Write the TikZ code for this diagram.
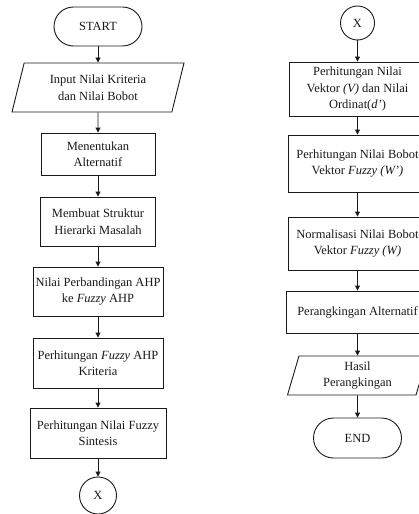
\documentclass[tikz,border=0pt]{standalone}
\usepackage{fontspec}
\setmainfont{Liberation Serif}
\usetikzlibrary{shapes.geometric}
\usetikzlibrary{arrows.meta}

\tikzset{
  terminal/.style={draw,rectangle,rounded corners=19.5pt,minimum width=88pt,minimum height=39pt},
  process/.style={draw,rectangle,align=center,inner sep=1pt},
  io/.style={draw,trapezium,trapezium left angle=66,trapezium right angle=114,
    trapezium stretches body,align=center,inner sep=1pt},
  connector/.style={draw,circle,minimum size=37pt,inner sep=0pt},
  flow/.style={-{Triangle[length=5pt,width=5pt]}}
}

\begin{document}
\begin{tikzpicture}[x=1pt,y=-1pt,draw=black!90,text=black!90,
  font=\fontsize{12.5}{16.5}\selectfont,line width=0.9pt]
 \useasboundingbox (0,0) rectangle (419,514);
 \clip (0,0) rectangle (419,514);
 % left column
 \node[terminal] (start) at (98,26.5) {START};
 \node[io,minimum width=172pt,minimum height=49pt] (input) at (98,87.5) {Input Nilai Kriteria\\dan Nilai Bobot};
 \node[process,minimum width=114pt,minimum height=42pt] (alt) at (98,154) {Menentukan\\Alternatif};
 \node[process,minimum width=115pt,minimum height=49pt] (hier) at (98,221.5) {Membuat Struktur\\Hierarki Masalah};
 \node[process,minimum width=130pt,minimum height=49pt] (banding) at (98,291.5) {Nilai Perbandingan AHP\\ke \textit{Fuzzy} AHP};
 \node[process,minimum width=130pt,minimum height=50pt] (kriteria) at (98,363) {Perhitungan \textit{Fuzzy} AHP\\Kriteria};
 \node[process,minimum width=136pt,minimum height=50pt] (sintesis) at (98,433) {Perhitungan Nilai Fuzzy\\Sintesis};
 \node[connector] (xa) at (98,495.5) {X};
 % right column
 \node[connector,minimum size=34pt] (xb) at (357.5,23) {X};
 \node[process,minimum width=136pt,minimum height=54pt] (vektor) at (357.5,89) {Perhitungan Nilai\\Vektor \textit{(V)} dan Nilai\\Ordinat(\textit{d'})};
 \node[process,minimum width=138pt,minimum height=57pt] (bobot) at (357.5,163.5) {Perhitungan Nilai Bobot\\Vektor \textit{Fuzzy (W')}};
 \node[process,minimum width=138pt,minimum height=53pt] (normal) at (357.5,243.5) {Normalisasi Nilai Bobot\\Vektor \textit{Fuzzy (W)}};
 \node[process,minimum width=142pt,minimum height=42pt] (rank) at (357.5,312) {Perangkingan Alternatif};
 \node[io,trapezium left angle=69,trapezium right angle=111,minimum width=140pt,minimum height=39pt] (hasil) at (357.5,375.5) {Hasil\\Perangkingan};
 \node[terminal,minimum height=40pt,rounded corners=20pt] (end) at (357.5,438) {END};
 % arrows
 \foreach \a/\b in {start/input,input/alt,alt/hier,hier/banding,banding/kriteria,
   kriteria/sintesis,sintesis/xa,xb/vektor,vektor/bobot,bobot/normal,normal/rank,
   rank/hasil,hasil/end}
   \draw[flow] (\a) -- (\b);
\end{tikzpicture}
\end{document}
